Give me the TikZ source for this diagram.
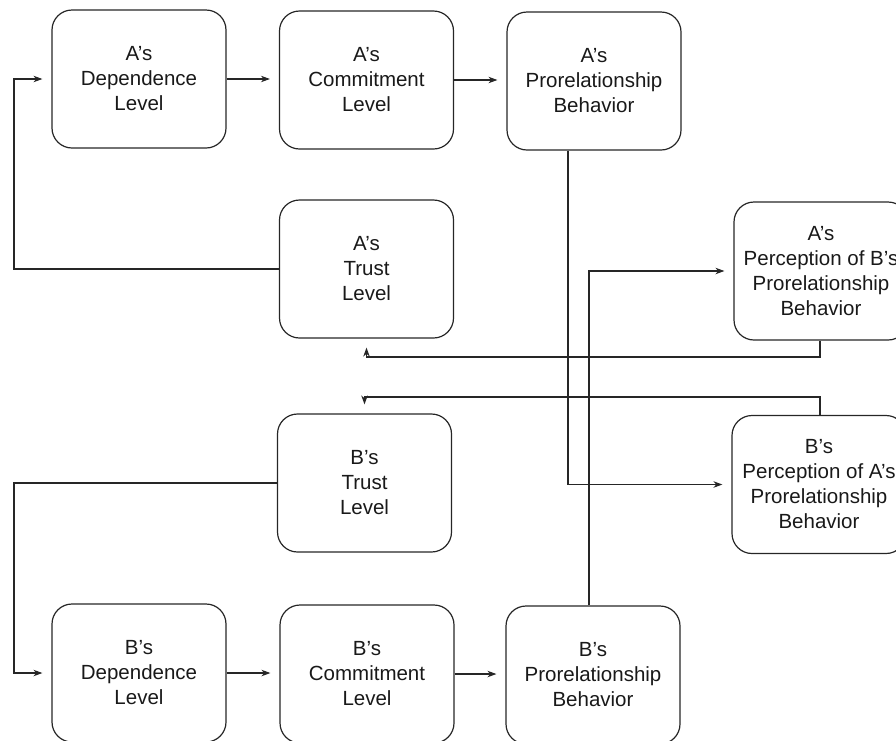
\documentclass[tikz,border=0pt]{standalone}
\usepackage{fontspec}
\setmainfont{Liberation Sans}
\usetikzlibrary{arrows.meta,calc}

\tikzset{
  box/.style={draw=black!85, line width=1.2pt, rounded corners=20pt,
    minimum width=174pt, minimum height=138pt, inner sep=0pt,
    align=center, font=\fontsize{20.5}{25}\selectfont, text=black!90},
  link/.style={draw=black!85, line width=1.1pt,
    -{Stealth[length=9pt,width=6.5pt]}, shorten >=9pt},
}

\begin{document}
\begin{tikzpicture}[x=1pt, y=-1pt]
  \clip (0,0) rectangle (896,740);

  % A's chain
  \node[box] (adep)   at (139,79)    {A’s\\Dependence\\Level};
  \node[box] (acom)   at (366.5,80)  {A’s\\Commitment\\Level};
  \node[box] (apro)   at (594,81)    {A’s\\Prorelationship\\Behavior};
  \node[box] (atrust) at (366.5,269) {A’s\\Trust\\Level};
  \node[box] (aperc)  at (821,271)   {A’s\\Perception of B’s\\Prorelationship\\Behavior};

  % B's chain
  \node[box] (btrust) at (364.5,483) {B’s\\Trust\\Level};
  \node[box] (bperc)  at (819,484.5) {B’s\\Perception of A’s\\Prorelationship\\Behavior};
  \node[box] (bdep)   at (139,673)   {B’s\\Dependence\\Level};
  \node[box] (bcom)   at (367,674)   {B’s\\Commitment\\Level};
  \node[box] (bpro)   at (593,675)   {B’s\\Prorelationship\\Behavior};

  % routing points
  \coordinate (aloop) at (14,269);
  \coordinate (bloop) at (14,483);

  % horizontal chains
  \draw[link] (adep.east) -- (adep.east -| acom.west);
  \draw[link] (acom.east) -- (acom.east -| apro.west);
  \draw[link] (bdep.east) -- (bdep.east -| bcom.west);
  \draw[link] (bcom.east) -- (bcom.east -| bpro.west);

  % trust feeds dependence
  \draw[link] (atrust.west) -- (aloop) |- (adep.west);
  \draw[link] (btrust.west) -- (bloop) |- (bdep.west);

  % behaviour perceived by the partner
  \draw[link] (apro.south -| 568,0) |- (bperc.west);
  \draw[link] (bpro.north -| 589,0) |- (aperc.west);

  % perception feeds trust
  \draw[link] (aperc.south -| 820,0) -- (820,357) -| (atrust.south);
  \draw[link] (bperc.north -| 820,0) -- (820,397) -| (btrust.north);
\end{tikzpicture}
\end{document}
